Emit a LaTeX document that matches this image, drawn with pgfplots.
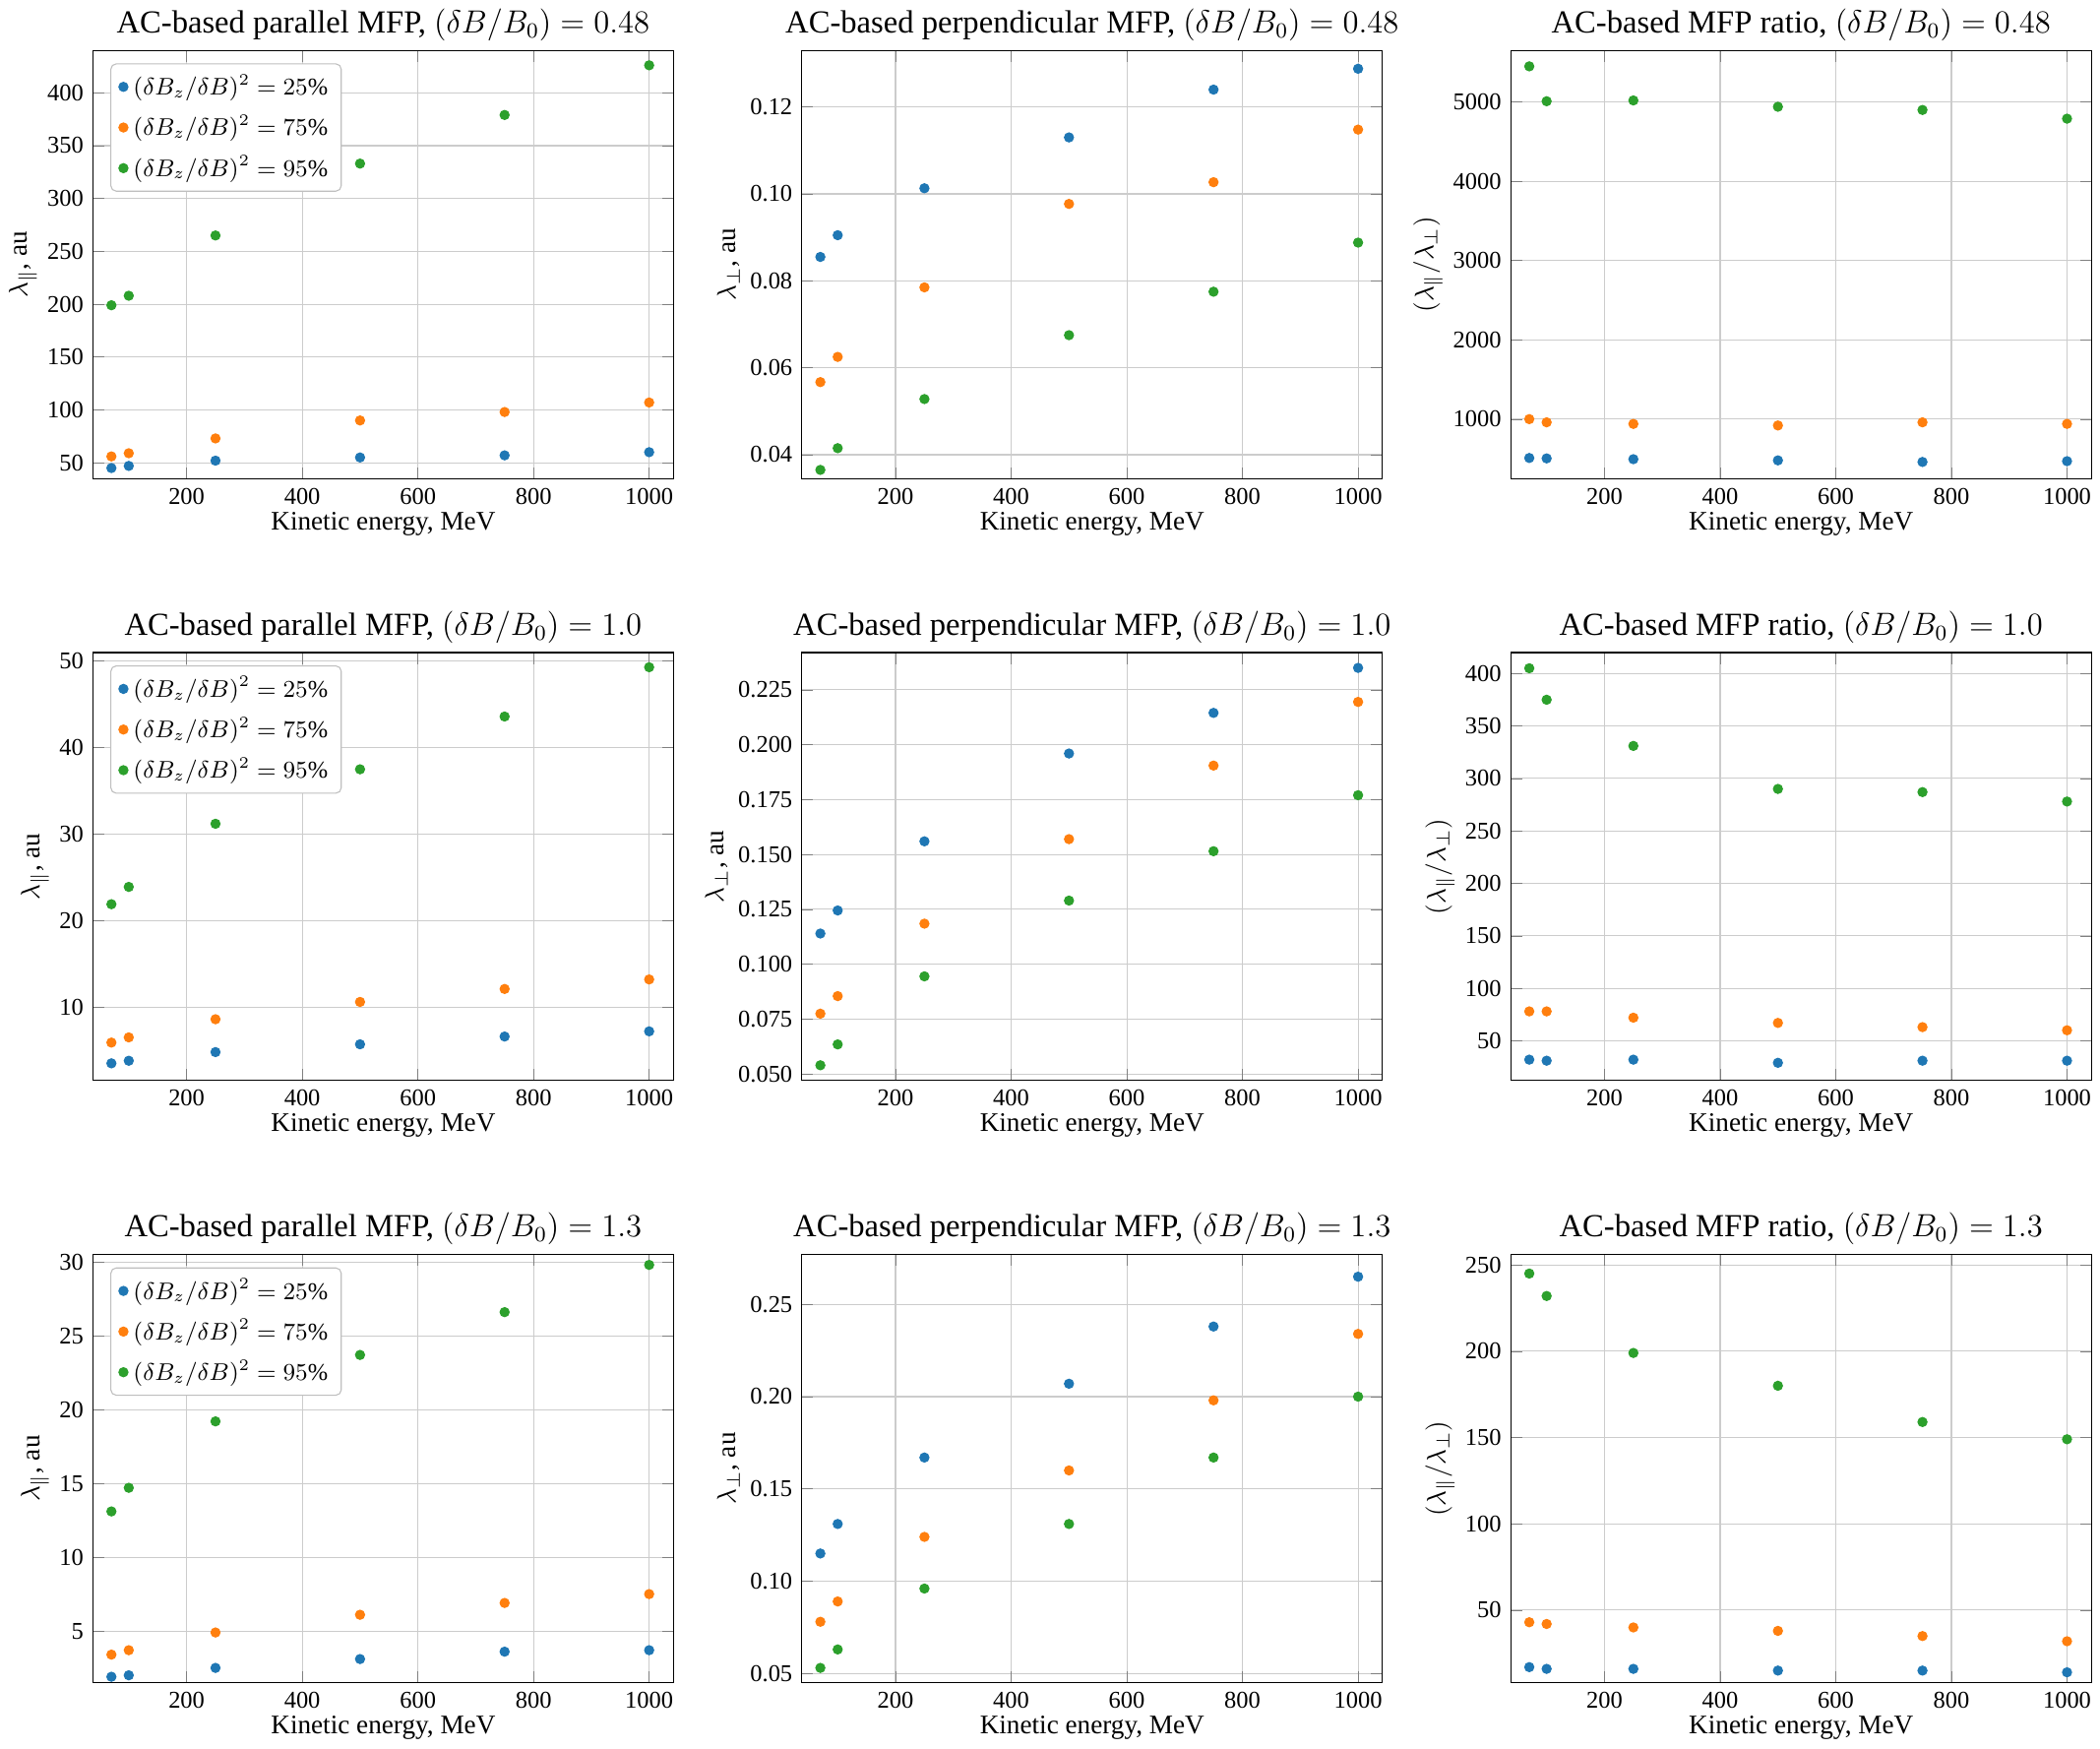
\documentclass[border=0pt]{standalone}
\usepackage{pgfplots}
\pgfplotsset{compat=1.18}
\usepgfplotslibrary{groupplots}
\usepackage{fontspec}
\setmainfont{Liberation Serif}
\definecolor{c1}{HTML}{1F77B4}
\definecolor{c2}{HTML}{FF7F0E}
\definecolor{c3}{HTML}{2CA02C}
\pgfplotsset{
 every axis/.append style={width=217pt,height=160pt,scale only axis,
  xmin=38,xmax=1042,xtick={200,400,600,800,1000},grid=major,
  grid style={gray!40},xlabel={Kinetic energy, MeV},
  /pgf/number format/assume math mode=true,
  /pgf/number format/1000 sep={},
  tick label style={font=\small},label style={font=\normalsize},
  title style={font=\large,yshift=-6pt},
  xlabel style={yshift=4pt},ylabel style={yshift=-3pt},
  legend style={at={(0.03,0.97)},anchor=north west,font=\small,draw=gray!50,rounded corners=2pt,row sep=2pt},
  legend cell align=left},
 s1/.style={only marks,mark=*,mark size=1.7pt,color=c1},
 s2/.style={only marks,mark=*,mark size=1.7pt,color=c2},
 s3/.style={only marks,mark=*,mark size=1.7pt,color=c3},
}
\begin{document}
\begin{tikzpicture}
\begin{groupplot}[group style={group size=3 by 3,horizontal sep=48pt,vertical sep=65pt}]
% row 1
\nextgroupplot[title={AC-based parallel MFP, $(\delta B/B_0)=0.48$},ylabel={$\lambda_\parallel$, au},ymin=35,ymax=440,ytick={50,100,...,400}]
\addplot[s1] coordinates {(70,45)(100,47)(250,52)(500,55)(750,57)(1000,60)};
\addplot[s2] coordinates {(70,56)(100,59)(250,73)(500,90)(750,98)(1000,107)};
\addplot[s3] coordinates {(70,199)(100,208)(250,265)(500,333)(750,379)(1000,426)};
\legend{$(\delta B_z/\delta B)^2=25\%$,$(\delta B_z/\delta B)^2=75\%$,$(\delta B_z/\delta B)^2=95\%$}
\nextgroupplot[title={AC-based perpendicular MFP, $(\delta B/B_0)=0.48$},ylabel={$\lambda_\perp$, au},ymin=0.0345,ymax=0.133,ytick={0.04,0.06,...,0.121},yticklabel style={/pgf/number format/.cd,fixed,zerofill,precision=2}]
\addplot[s1] coordinates {(70,.0855)(100,.0905)(250,.1013)(500,.113)(750,.124)(1000,.1288)};
\addplot[s2] coordinates {(70,.0567)(100,.0625)(250,.0785)(500,.0977)(750,.1027)(1000,.1148)};
\addplot[s3] coordinates {(70,.0365)(100,.0415)(250,.0528)(500,.0675)(750,.0775)(1000,.0888)};
\nextgroupplot[title={AC-based MFP ratio, $(\delta B/B_0)=0.48$},ylabel={$(\lambda_\parallel/\lambda_\perp)$},ymin=250,ymax=5650,ytick={1000,2000,...,5000},scaled y ticks=false]
\addplot[s1] coordinates {(70,510)(100,505)(250,495)(500,480)(750,460)(1000,470)};
\addplot[s2] coordinates {(70,1000)(100,960)(250,940)(500,920)(750,960)(1000,940)};
\addplot[s3] coordinates {(70,5450)(100,5010)(250,5020)(500,4940)(750,4900)(1000,4790)};
% row 2
\nextgroupplot[title={AC-based parallel MFP, $(\delta B/B_0)=1.0$},ylabel={$\lambda_\parallel$, au},ymin=1.5,ymax=51,ytick={10,20,...,50}]
\addplot[s1] coordinates {(70,3.5)(100,3.8)(250,4.8)(500,5.7)(750,6.6)(1000,7.2)};
\addplot[s2] coordinates {(70,5.9)(100,6.5)(250,8.6)(500,10.6)(750,12.1)(1000,13.2)};
\addplot[s3] coordinates {(70,21.9)(100,23.9)(250,31.2)(500,37.5)(750,43.6)(1000,49.3)};
\legend{$(\delta B_z/\delta B)^2=25\%$,$(\delta B_z/\delta B)^2=75\%$,$(\delta B_z/\delta B)^2=95\%$}
\nextgroupplot[title={AC-based perpendicular MFP, $(\delta B/B_0)=1.0$},ylabel={$\lambda_\perp$, au},ymin=0.047,ymax=0.242,ytick={0.05,0.075,...,0.226},yticklabel style={/pgf/number format/.cd,fixed,zerofill,precision=3}]
\addplot[s1] coordinates {(70,.114)(100,.1245)(250,.156)(500,.196)(750,.2145)(1000,.235)};
\addplot[s2] coordinates {(70,.0775)(100,.0855)(250,.1185)(500,.157)(750,.1905)(1000,.2195)};
\addplot[s3] coordinates {(70,.054)(100,.0635)(250,.0945)(500,.129)(750,.1515)(1000,.177)};
\nextgroupplot[title={AC-based MFP ratio, $(\delta B/B_0)=1.0$},ylabel={$(\lambda_\parallel/\lambda_\perp)$},ymin=12,ymax=420,ytick={50,100,...,400}]
\addplot[s1] coordinates {(70,32)(100,31)(250,32)(500,29)(750,31)(1000,31)};
\addplot[s2] coordinates {(70,78)(100,78)(250,72)(500,67)(750,63)(1000,60)};
\addplot[s3] coordinates {(70,405)(100,375)(250,331)(500,290)(750,287)(1000,278)};
% row 3
\nextgroupplot[title={AC-based parallel MFP, $(\delta B/B_0)=1.3$},ylabel={$\lambda_\parallel$, au},ymin=1.5,ymax=30.5,ytick={5,10,...,30}]
\addplot[s1] coordinates {(70,1.9)(100,2.0)(250,2.5)(500,3.1)(750,3.6)(1000,3.7)};
\addplot[s2] coordinates {(70,3.4)(100,3.7)(250,4.9)(500,6.1)(750,6.9)(1000,7.5)};
\addplot[s3] coordinates {(70,13.1)(100,14.7)(250,19.2)(500,23.7)(750,26.6)(1000,29.8)};
\legend{$(\delta B_z/\delta B)^2=25\%$,$(\delta B_z/\delta B)^2=75\%$,$(\delta B_z/\delta B)^2=95\%$}
\nextgroupplot[title={AC-based perpendicular MFP, $(\delta B/B_0)=1.3$},ylabel={$\lambda_\perp$, au},ymin=0.045,ymax=0.277,ytick={0.05,0.1,...,0.26},yticklabel style={/pgf/number format/.cd,fixed,zerofill,precision=2}]
\addplot[s1] coordinates {(70,.115)(100,.131)(250,.167)(500,.207)(750,.238)(1000,.265)};
\addplot[s2] coordinates {(70,.078)(100,.089)(250,.124)(500,.16)(750,.198)(1000,.234)};
\addplot[s3] coordinates {(70,.053)(100,.063)(250,.096)(500,.131)(750,.167)(1000,.2)};
\nextgroupplot[title={AC-based MFP ratio, $(\delta B/B_0)=1.3$},ylabel={$(\lambda_\parallel/\lambda_\perp)$},ymin=8,ymax=256,ytick={50,100,...,250}]
\addplot[s1] coordinates {(70,17)(100,16)(250,16)(500,15)(750,15)(1000,14)};
\addplot[s2] coordinates {(70,43)(100,42)(250,40)(500,38)(750,35)(1000,32)};
\addplot[s3] coordinates {(70,245)(100,232)(250,199)(500,180)(750,159)(1000,149)};
\end{groupplot}
\end{tikzpicture}
\end{document}
